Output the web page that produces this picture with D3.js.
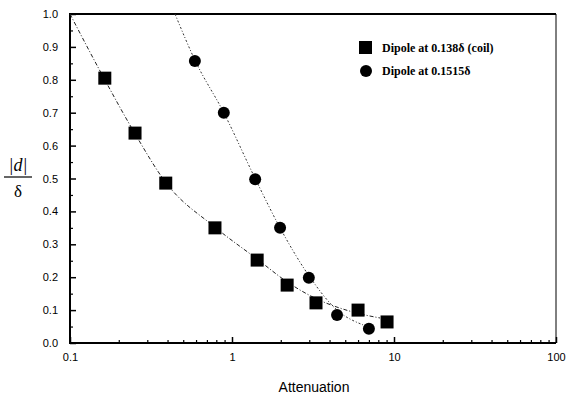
<!DOCTYPE html>
<html><head><meta charset="utf-8">
<script src="https://cdn.jsdelivr.net/npm/d3@7"></script>
<style>html,body{margin:0;padding:0;background:#fff;}svg{display:block;}</style>
</head><body>
<script>
// Data
const squareX = [0.164, 0.252, 0.39, 0.785, 1.43, 2.19, 3.3, 6.0, 9.06];
const squareY = [0.805, 0.638, 0.486, 0.35, 0.252, 0.176, 0.122, 0.10, 0.064];
const circleX = [0.59, 0.89, 1.39, 1.98, 2.98, 4.45, 7.0];
const circleY = [0.857, 0.70, 0.498, 0.35, 0.198, 0.085, 0.043];
// fitted curves (dash-dot)
const squareFitX = [0.1, 0.164, 0.252, 0.39, 0.785, 1.43, 2.2, 3.3, 5.5, 8.2];
const squareFitY = [1.0, 0.80, 0.636, 0.488, 0.352, 0.255, 0.185, 0.135, 0.095, 0.076];
const circleFitX = [0.445, 0.59, 0.89, 1.39, 1.98, 2.98, 4.45, 6.44];
const circleFitY = [1.0, 0.86, 0.70, 0.50, 0.35, 0.205, 0.10, 0.055];
const xTickValues = [0.1, 1, 10, 100];
const xTickLabels = ["0.1", "1", "10", "100"];
const yTickValues = [0, 0.1, 0.2, 0.3, 0.4, 0.5, 0.6, 0.7, 0.8, 0.9, 1.0];
const yTickLabels = ["0.0", "0.1", "0.2", "0.3", "0.4", "0.5", "0.6", "0.7", "0.8", "0.9", "1.0"];
const legendLabels = ["Dipole at 0.138\u03B4 (coil)", "Dipole at 0.1515\u03B4"];

const W = 567, H = 397;
const L = 70, R = 556, T = 14, B = 343;
const svg = d3.select("body").append("svg").attr("width", W).attr("height", H);

const x = d3.scaleLog().domain([0.1, 100]).range([L, R]);
const y = d3.scaleLinear().domain([0, 1]).range([B, T]);

// minor x ticks
const minorX = [];
[0.1, 1, 10].forEach(d => { for (let k = 2; k <= 9; k++) minorX.push(d * k); });
const minorY = d3.range(0.05, 1, 0.1);

const g = svg.append("g");
// x axis (bottom), ticks inward
g.append("g").attr("transform", `translate(0,${B})`)
  .call(d3.axisBottom(x).tickValues(minorX).tickSize(-3).tickFormat(""))
  .call(a => a.select(".domain").remove())
  .selectAll("line").attr("stroke", "#000").attr("stroke-width", 1.2);
g.append("g").attr("transform", `translate(0,${B})`)
  .call(d3.axisBottom(x).tickValues(xTickValues).tickSize(-6).tickPadding(10)
    .tickFormat((d, i) => xTickLabels[i]))
  .call(a => a.select(".domain").remove())
  .call(a => a.selectAll("line").attr("stroke", "#000").attr("stroke-width", 1.5))
  .call(a => a.selectAll("text").attr("font-family", "Liberation Sans, Arial, sans-serif")
    .attr("font-size", 11).attr("fill", "#000"));
// y axis (left), ticks inward
g.append("g").attr("transform", `translate(${L},0)`)
  .call(d3.axisLeft(y).tickValues(minorY).tickSize(-3).tickFormat(""))
  .call(a => a.select(".domain").remove())
  .selectAll("line").attr("stroke", "#000").attr("stroke-width", 1.2);
g.append("g").attr("transform", `translate(${L},0)`)
  .call(d3.axisLeft(y).tickValues(yTickValues).tickSize(-6).tickPadding(12)
    .tickFormat((d, i) => yTickLabels[i]))
  .call(a => a.select(".domain").remove())
  .call(a => a.selectAll("line").attr("stroke", "#000").attr("stroke-width", 1.5))
  .call(a => a.selectAll("text").attr("font-family", "Liberation Sans, Arial, sans-serif")
    .attr("font-size", 11).attr("fill", "#000"));

// frame
svg.append("line").attr("x1", L).attr("x2", L).attr("y1", T - 1).attr("y2", B + 1).attr("stroke", "#000").attr("stroke-width", 2);
svg.append("line").attr("x1", L - 1).attr("x2", R).attr("y1", B).attr("y2", B).attr("stroke", "#000").attr("stroke-width", 2);
svg.append("line").attr("x1", L - 1).attr("x2", R).attr("y1", T).attr("y2", T).attr("stroke", "#000").attr("stroke-width", 2.2);
svg.append("line").attr("x1", R).attr("x2", R).attr("y1", T).attr("y2", B).attr("stroke", "#000").attr("stroke-width", 1);

// fit curves
const line = d3.line().x(d => x(d[0])).y(d => y(d[1])).curve(d3.curveMonotoneX);
svg.append("path").attr("d", line(d3.zip(squareFitX, squareFitY)))
  .attr("fill", "none").attr("stroke", "#222").attr("stroke-width", 1)
  .attr("stroke-dasharray", "4,2,1,2");
svg.append("path").attr("d", line(d3.zip(circleFitX, circleFitY)))
  .attr("fill", "none").attr("stroke", "#333").attr("stroke-width", 1)
  .attr("stroke-dasharray", "2,2,1,2");

// markers
const sq = 13;
svg.append("g").selectAll("rect").data(d3.zip(squareX, squareY)).join("rect")
  .attr("x", d => x(d[0]) - sq / 2).attr("y", d => y(d[1]) - sq / 2)
  .attr("width", sq).attr("height", sq).attr("fill", "#000");
svg.append("g").selectAll("circle").data(d3.zip(circleX, circleY)).join("circle")
  .attr("cx", d => x(d[0])).attr("cy", d => y(d[1])).attr("r", 6).attr("fill", "#000");

// legend
const lg = svg.append("g");
lg.append("rect").attr("x", 359).attr("y", 41).attr("width", 13).attr("height", 13).attr("fill", "#000");
lg.append("circle").attr("cx", 366).attr("cy", 71).attr("r", 6).attr("fill", "#000");
lg.selectAll("text").data(legendLabels).join("text")
  .attr("x", 382).attr("y", (d, i) => 52 + i * 23)
  .attr("font-family", "Liberation Serif, Times New Roman, serif").attr("font-weight", "bold")
  .attr("font-size", 12).attr("fill", "#000").text(d => d);

// axis titles
svg.append("text").attr("x", (L + R) / 2 + 1).attr("y", 392).attr("text-anchor", "middle")
  .attr("font-family", "Liberation Sans, Arial, sans-serif").attr("font-size", 14).attr("fill", "#000")
  .text("Attenuation");
const yl = svg.append("g");
yl.append("text").attr("x", 18).attr("y", 171).attr("text-anchor", "middle")
  .attr("font-family", "Liberation Serif, Times New Roman, serif").attr("font-size", 18).attr("fill", "#000")
  .text("|d|").style("font-style", "italic");
yl.append("line").attr("x1", 4).attr("x2", 32).attr("y1", 177).attr("y2", 177).attr("stroke", "#000").attr("stroke-width", 1.2);
yl.append("text").attr("x", 18).attr("y", 197).attr("text-anchor", "middle")
  .attr("font-family", "Liberation Serif, Times New Roman, serif").attr("font-size", 17).attr("fill", "#000")
  .text("\u03B4");
</script>
</body></html>
